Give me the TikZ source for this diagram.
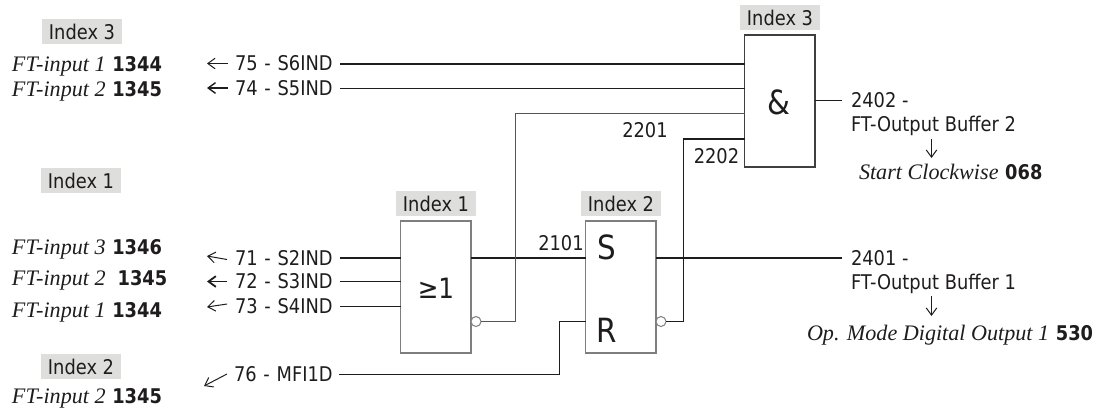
\documentclass[tikz,border=0pt]{standalone}
\usepackage{fontspec}
\setmainfont{DejaVu Sans}[FakeStretch=0.88]
\newfontfamily\serifit{Liberation Serif}[ItalicFont=* Italic]
\usetikzlibrary{arrows.meta}
\definecolor{ink}{HTML}{1E1C1C}
\definecolor{tagfill}{HTML}{DEDEDC}
\definecolor{boxgray}{HTML}{7E7E7E}
\newlength{\pxu}\setlength{\pxu}{0.75pt}
\tikzset{
  x=0.75pt,y=-0.75pt,
  every node/.style={text=ink,inner sep=0pt,outer sep=0pt},
  tag/.style={fill=tagfill,minimum width=80\pxu,minimum height=25\pxu,font=\fontsize{15.2}{18}\selectfont},
  gate/.style={draw=boxgray,line width=1.3\pxu,minimum width=70.5\pxu,minimum height=132\pxu,fill=white},
  gatedark/.style={gate,draw=ink!85,line width=1.2\pxu},
  sym/.style={font=\fontsize{25}{30}\selectfont},
  symor/.style={font=\fontsize{21}{26}\selectfont},
  lab/.style={font=\fontsize{15.2}{18}\selectfont,text height=11pt,text depth=0pt},
  sig/.style={lab,anchor=west,text width=102\pxu,inner xsep=3\pxu,align=left},
  ftext/.style={anchor=west,font=\fontsize{15.2}{18}\selectfont,text height=11pt,text depth=0pt},
  thin line/.style={draw=ink,line width=0.9\pxu},
  thick line/.style={draw=ink,line width=2\pxu},
  tipped/.style={draw=ink,line width=0.75pt,-{Straight Barb[length=5.5pt,width=8pt]}},
  bubble/.style={circle,draw=boxgray,line width=1\pxu,fill=white,minimum size=10\pxu},
}
\newcommand{\ftlab}[2]{{\serifit\fontsize{16.6}{18}\selectfont\itshape #1}\hspace{5pt}{\bfseries #2}}
\begin{document}
\begin{tikzpicture}
\useasboundingbox (0,0) rectangle (1100,412);
% left tags and texts
\node[tag] (tagA) at (82,31.5) {Index 3};
\node[tag] (tagB) at (81,180.5) {Index 1};
\node[tag] (tagC) at (81,366.5) {Index 2};
\node[ftext] (fA) at (12,64) {\ftlab{FT-input 1}{1344}};
\node[ftext] (fB) at (12,89) {\ftlab{FT-input 2}{1345}};
\node[ftext] (fC) at (12,247) {\ftlab{FT-input 3}{1346}};
\node[ftext] (fD) at (12,278) {\ftlab{FT-input 2\hspace{4pt}}{1345}};
\node[ftext] (fE) at (12,310) {\ftlab{FT-input 1}{1344}};
\node[ftext] (fF) at (12,396) {\ftlab{FT-input 2}{1345}};
% signal labels
\node[sig] (s75) at (232,63.5) {75 - S6IND};
\node[sig] (s74) at (232,88.5) {74 - S5IND};
\node[sig] (s71) at (232,258) {71 - S2IND};
\node[sig] (s72) at (232,281.5) {72 - S3IND};
\node[sig] (s73) at (232,306.5) {73 - S4IND};
\node[sig] (s76) at (231,374.5) {76 - MFI1D};
% small arrow ends
\coordinate (a75) at (207,63.5);
\coordinate (a74) at (207,88);
\coordinate (a71) at (207,256);
\coordinate (a72) at (207,281.5);
\coordinate (a73) at (207,307);
\coordinate (a76) at (204,386);
\draw[tipped] (228,63.5) -- (a75);
\draw[tipped,line width=1.05pt] (228,88) -- (a74);
\draw[tipped] (227,259.5) -- (a71);
\draw[tipped,line width=1.35pt] (227,281.5) -- (a72);
\draw[tipped] (227,304) -- (a73);
\draw[tipped] (227,374) -- (a76);
% gates
\node[gate] (orG) at (435.75,287) {};
\node[gate] (rsG) at (620.75,287) {};
\node[gatedark] (andG) at (779.75,101) {};
\node[tag] (tagOr) at (436,203.5) {Index 1};
\node[tag] (tagRs) at (621,203.5) {Index 2};
\node[tag] (tagAnd) at (780,17.5) {Index 3};
\node[symor] (symOr) at (436,288) {≥1};
\node[sym] (symS) at (607,247) {S};
\node[sym] (symR) at (607,330) {R};
\node[sym] (symAnd) at (779,102) {\&};
\node[bubble] (bubOr) at (476,321.5) {};
\node[bubble] (bubRs) at (661,321.5) {};
% ports on the gates
\coordinate (and1) at (andG.west |- s75);
\coordinate (and2) at (andG.west |- s74);
\coordinate (and3) at (744.5,113.5);
\coordinate (and4) at (744.5,138.5);
\coordinate (or1) at (orG.west |- s71);
\coordinate (or2) at (orG.west |- s72);
\coordinate (or3) at (orG.west |- s73);
\coordinate (rsR) at (585.5,321.5);
% output labels
\node[lab,anchor=west] (o2a) at (851,100) {2402 -};
\node[lab,anchor=west] (o2b) at (851,124) {FT-Output Buffer 2};
\node[ftext] (o2c) at (859,172) {\ftlab{Start Clockwise}{068}};
\node[lab,anchor=west] (o1a) at (851,258) {2401 -};
\node[lab,anchor=west] (o1b) at (851,282) {FT-Output Buffer 1};
\node[ftext] (o1c) at (807,333) {\ftlab{Op. Mode Digital Output 1}{530}};
\coordinate (o2e) at (842,100.5);
\coordinate (o1e) at (842,258);
% connectors
\draw[thick line] (s75.east) -- (and1);
\draw[thin line] (s74.east) -- (and2);
\draw[thick line] (s71.east) -- (or1);
\draw[thin line] (s72.east) -- (or2);
\draw[thin line] (s73.east) -- (or3);
\draw[thin line] (s76.east) -- (559.5,374.5) -- (559.5,321.5) -- (rsR);
\draw[thick line] (orG.east |- s71) -- (rsG.west |- s71);
\draw[thin line,draw=ink!75] (bubOr.east) -- (515.5,321.5) -- (515.5,113.5) -- (and3);
\draw[thin line] (bubRs.east) -- (683.5,321.5) -- (683.5,138.5) -- (and4);
\draw[thick line] (and4) -- (683,138.5);
\draw[thick line] (rsG.east |- s71) -- (o1e);
\draw[thin line] (andG.east |- o2e) -- (o2e);
\draw[tipped] (931.5,139) -- (931.5,158);
\draw[tipped] (931.5,296) -- (931.5,316);
% wire labels
\node[lab] (w2201) at (645,130) {2201};
\node[lab] (w2202) at (716.5,156) {2202};
\node[lab] (w2101) at (561,243) {2101};
\end{tikzpicture}
\end{document}
